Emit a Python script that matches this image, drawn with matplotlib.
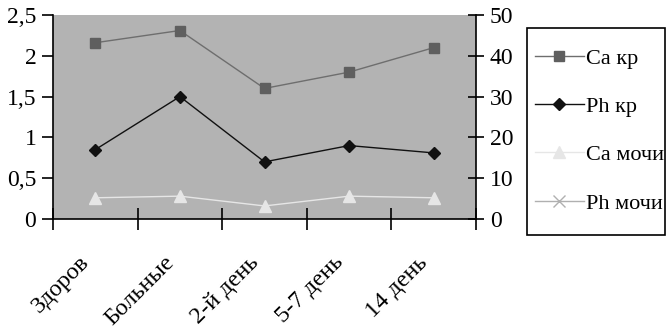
import matplotlib.pyplot as plt
import matplotlib.transforms as mtransforms
from matplotlib.patches import Rectangle
import numpy as np

plt.rcParams['font.family'] = ['Liberation Serif', 'DejaVu Serif']

groups = ["Здоров", "Больные", "2-й день", "5-7 день", "14 день"]
ca_kr = [2.16, 2.31, 1.6, 1.8, 2.1]
ph_kr = [0.85, 1.5, 0.7, 0.9, 0.81]
ca_mochi = [0.26, 0.28, 0.16, 0.28, 0.26]
ph_mochi = []
left_ticks = [0, 0.5, 1, 1.5, 2, 2.5]
left_labels = ["0", "0,5", "1", "1,5", "2", "2,5"]
right_ticks = [0, 10, 20, 30, 40, 50]

x = np.arange(len(groups))

fig = plt.figure(figsize=(6.68, 3.34), dpi=100)
ax = fig.add_axes([53/668, 1 - 219/334, 423/668, 204/334])
ax.set_facecolor('#b3b3b3')

ax.plot(x, ca_kr, color='#6e6e6e', marker='s', markersize=7, mfc='#5f5f5f', mec='#5f5f5f', lw=1, label='Ca кр')
ax.plot(x, ph_kr, color='#111111', marker='D', markersize=6, mfc='#111111', mec='#111111', lw=1, label='Ph кр')
ax.plot(x, ca_mochi, color='#e6e6e6', marker='^', markersize=8, mfc='#e6e6e6', mec='#e6e6e6', lw=1, label='Ca мочи')
ax.plot(x[:len(ph_mochi)], ph_mochi, color='#b0b0b0', marker='x', markersize=8, lw=1, label='Ph мочи')

ax.set_xlim(-0.5, len(groups) - 0.5)
ax.set_ylim(0, 2.5)
ax.set_yticks(left_ticks)
ax.set_yticklabels(left_labels)
ax.set_xticks(np.arange(len(groups) + 1) - 0.5, minor=False)
ax.set_xticklabels([])
ax.set_xticks(x, minor=True)
ax.set_xticklabels(groups, minor=True, rotation=45, ha='right', va='center', rotation_mode='anchor')
ax.tick_params(axis='x', which='minor', length=0, pad=29, labelsize=17.5)
shift = mtransforms.ScaledTranslation(-9/100, 0, fig.dpi_scale_trans)
for lbl in ax.get_xticklabels(minor=True):
    lbl.set_transform(lbl.get_transform() + shift)
ax.tick_params(axis='x', which='major', direction='inout', length=16, width=1.2)
ax.tick_params(axis='y', direction='out', length=8, width=1.2, labelsize=17, pad=4)
for s in ['top', 'right']:
    ax.spines[s].set_visible(False)
ax.spines['left'].set_linewidth(1.2)
ax.spines['bottom'].set_linewidth(1.2)

ax2 = ax.twinx()
ax2.set_ylim(0, 50)
ax2.set_yticks(right_ticks)
ax2.tick_params(axis='y', direction='inout', length=12, width=1.2, labelsize=17, pad=4)
for s in ['top', 'left', 'bottom']:
    ax2.spines[s].set_visible(False)
ax2.spines['right'].set_linewidth(1.2)

# legend box drawn separately
fig.patches.append(Rectangle((527/668, 1 - 235/334), 138/668, 207/334, transform=fig.transFigure,
                             facecolor='white', edgecolor='black', lw=1.2, zorder=0))
handles, labels = ax.get_legend_handles_labels()
leg = fig.legend(handles, labels, loc='upper left', bbox_to_anchor=(535/668, 1 - 48/334),
                 bbox_transform=fig.transFigure, borderaxespad=0, borderpad=0,
                 fontsize=16, frameon=False, labelspacing=1.25,
                 handlelength=2.2, handletextpad=0.1)

plt.savefig('out.png', dpi=100)
